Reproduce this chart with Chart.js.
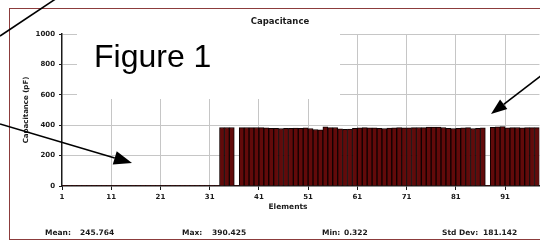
<!DOCTYPE html>
<html>
<head>
<meta charset="utf-8">
<script src="https://cdn.jsdelivr.net/npm/chart.js@4.4.1/dist/chart.umd.min.js"></script>
<style>
  html, body { margin: 0; padding: 0; background: #fff; overflow: hidden; }
</style>
</head>
<body>
<canvas id="capChart" width="540" height="242"></canvas>
<script>
// --- 1. DATA ---

// capacitance per element (pF), elements 1..97 (right edge of the plot is cut off)
const capacitance = [
    0.41, 0.38, 0.35, 0.40, 0.37, 0.36, 0.39, 0.42, 0.34, 0.38,
    0.36, 0.40, 0.37, 0.35, 0.39, 0.41, 0.33, 0.38, 0.36, 0.40,
    0.37, 0.35, 0.39, 0.36, 0.38, 0.34, 0.40, 0.37, 0.35, 0.39,
    0.36, 0.38, 385, 385, 385, 0.322, 384, 385, 384, 385,
    384, 383, 379, 380, 378, 380, 379, 381, 380, 382,
    378, 372, 370, 390, 384, 385, 376, 373, 375, 380,
    383, 384, 383, 382, 380, 378, 381, 383, 384, 383,
    382, 384, 385, 384, 387, 388, 387, 385, 379, 378,
    380, 383, 384, 378, 379, 382, 0.36, 386, 389, 390.425,
    383, 384, 385, 383, 384, 384, 384
];
const elements = capacitance.map((v, i) => String(i + 1));

const xTickLabels = ['1', '11', '21', '31', '41', '51', '61', '71', '81', '91'];
const yTickValues = [0, 200, 400, 600, 800, 1000];

const statNames = ['Mean:', 'Max:', 'Min:', 'Std Dev:'];
const statValues = ['245.764', '390.425', '0.322', '181.142'];

// --- 2. STYLE ---
const GRID = '#c6c6c6';
const INK = '#1a1a1a';
const TICK_FONT = { family: '"DejaVu Sans", sans-serif', size: 7, weight: 'bold' };

// --- 3. PLUGINS (frame, "Figure 1" box, titles, stats, arrows) ---

const framePlugin = {
    id: 'frame',
    beforeDraw(chart) {
        const ctx = chart.ctx;
        ctx.save();
        ctx.fillStyle = '#fff';
        ctx.fillRect(0, 0, chart.width, chart.height);
        ctx.strokeStyle = '#8c3c3c';
        ctx.lineWidth = 1;
        ctx.strokeRect(9.5, 8.5, 600, 231);
        ctx.restore();
    }
};

const figureBoxPlugin = {
    id: 'figureBox',
    beforeDatasetsDraw(chart) {
        const ctx = chart.ctx;
        ctx.save();
        ctx.fillStyle = '#fff';
        ctx.fillRect(77, 30, 263, 69);
        ctx.fillStyle = '#000';
        ctx.font = '32px "Liberation Sans", Arial, sans-serif';
        ctx.textBaseline = 'alphabetic';
        ctx.fillText('Figure 1', 94, 67);
        ctx.restore();
    }
};

function drawArrow(ctx, x1, y1, x2, y2, headLen, headHalf) {
    const ang = Math.atan2(y2 - y1, x2 - x1);
    const bx = x2 - headLen * Math.cos(ang);
    const by = y2 - headLen * Math.sin(ang);
    ctx.beginPath();
    ctx.moveTo(x1, y1);
    ctx.lineTo(bx, by);
    ctx.stroke();
    ctx.beginPath();
    ctx.moveTo(x2, y2);
    ctx.lineTo(bx + headHalf * Math.sin(ang), by - headHalf * Math.cos(ang));
    ctx.lineTo(bx - headHalf * Math.sin(ang), by + headHalf * Math.cos(ang));
    ctx.closePath();
    ctx.fill();
}

const labelsPlugin = {
    id: 'labels',
    afterDraw(chart) {
        const ctx = chart.ctx;
        ctx.save();
        ctx.fillStyle = INK;
        ctx.textBaseline = 'middle';

        // chart title
        ctx.textAlign = 'center';
        ctx.font = 'bold 8.5px "DejaVu Sans", sans-serif';
        ctx.fillText('Capacitance', 280, 22);

        // axis titles
        ctx.font = 'bold 7.5px "DejaVu Sans", sans-serif';
        ctx.fillText('Elements', 288, 207);
        ctx.save();
        ctx.translate(26, 110);
        ctx.rotate(-Math.PI / 2);
        ctx.font = 'bold 7px "DejaVu Sans", sans-serif';
        ctx.fillText('Capacitance (pF)', 0, 0);
        ctx.restore();

        // stats row
        const nameX = [45, 182, 322, 442];
        const valueX = [80, 212, 344, 483];
        ctx.textAlign = 'left';
        ctx.font = 'bold 7.5px "DejaVu Sans", sans-serif';
        statNames.forEach((name, i) => {
            ctx.fillText(name, nameX[i], 233);
            ctx.fillText(statValues[i], valueX[i], 233);
        });

        // annotation arrows
        ctx.strokeStyle = '#000';
        ctx.fillStyle = '#000';
        ctx.lineWidth = 1.6;
        ctx.beginPath();
        ctx.moveTo(0, 36);
        ctx.lineTo(57, -2);
        ctx.stroke();
        drawArrow(ctx, 0, 124, 132, 163, 18, 7);
        drawArrow(ctx, 542, 75, 491, 114, 16, 6);
        ctx.restore();
    }
};

// --- 4. CHART ---

new Chart(document.getElementById('capChart'), {
    type: 'bar',
    data: {
        labels: elements,
        datasets: [{
            label: 'Capacitance (pF)',
            data: capacitance,
            backgroundColor: '#620a0a',
            borderColor: '#100202',
            borderWidth: 1,
            barPercentage: 1.0,
            categoryPercentage: 1.0
        }]
    },
    options: {
        responsive: false,
        animation: false,
        devicePixelRatio: 1,
        layout: { padding: { left: 0, right: 0, top: 34, bottom: 36 } },
        plugins: { legend: { display: false }, tooltip: { enabled: false }, title: { display: false } },
        scales: {
            x: {
                type: 'category',
                offset: true,
                grid: {
                    offset: true,
                    color: c => (c.index > 0 && c.index % 10 === 0 ? GRID : 'transparent'),
                    tickColor: c => (c.index % 10 === 0 ? INK : 'transparent'),
                    tickLength: 4,
                    lineWidth: 1
                },
                border: { color: INK, width: 1.5 },
                ticks: {
                    autoSkip: false,
                    maxRotation: 0,
                    minRotation: 0,
                    padding: 3,
                    labelOffset: -2.46,
                    color: INK,
                    font: TICK_FONT,
                    callback: (v, i) => (xTickLabels.includes(elements[i]) ? elements[i] : '')
                },
                afterFit: s => { s.height = 20; }
            },
            y: {
                min: 0,
                max: 1000,
                grid: {
                    color: c => (c.tick && c.tick.value > 0 ? GRID : 'transparent'),
                    tickColor: INK,
                    tickLength: 3
                },
                border: { color: INK, width: 1.5 },
                ticks: { padding: 4, color: INK, font: TICK_FONT, callback: v => String(v) },
                afterBuildTicks: s => { s.ticks = yTickValues.map(v => ({ value: v })); },
                afterFit: s => { s.width = 62; }
            }
        }
    },
    plugins: [framePlugin, figureBoxPlugin, labelsPlugin]
});
</script>
</body>
</html>
